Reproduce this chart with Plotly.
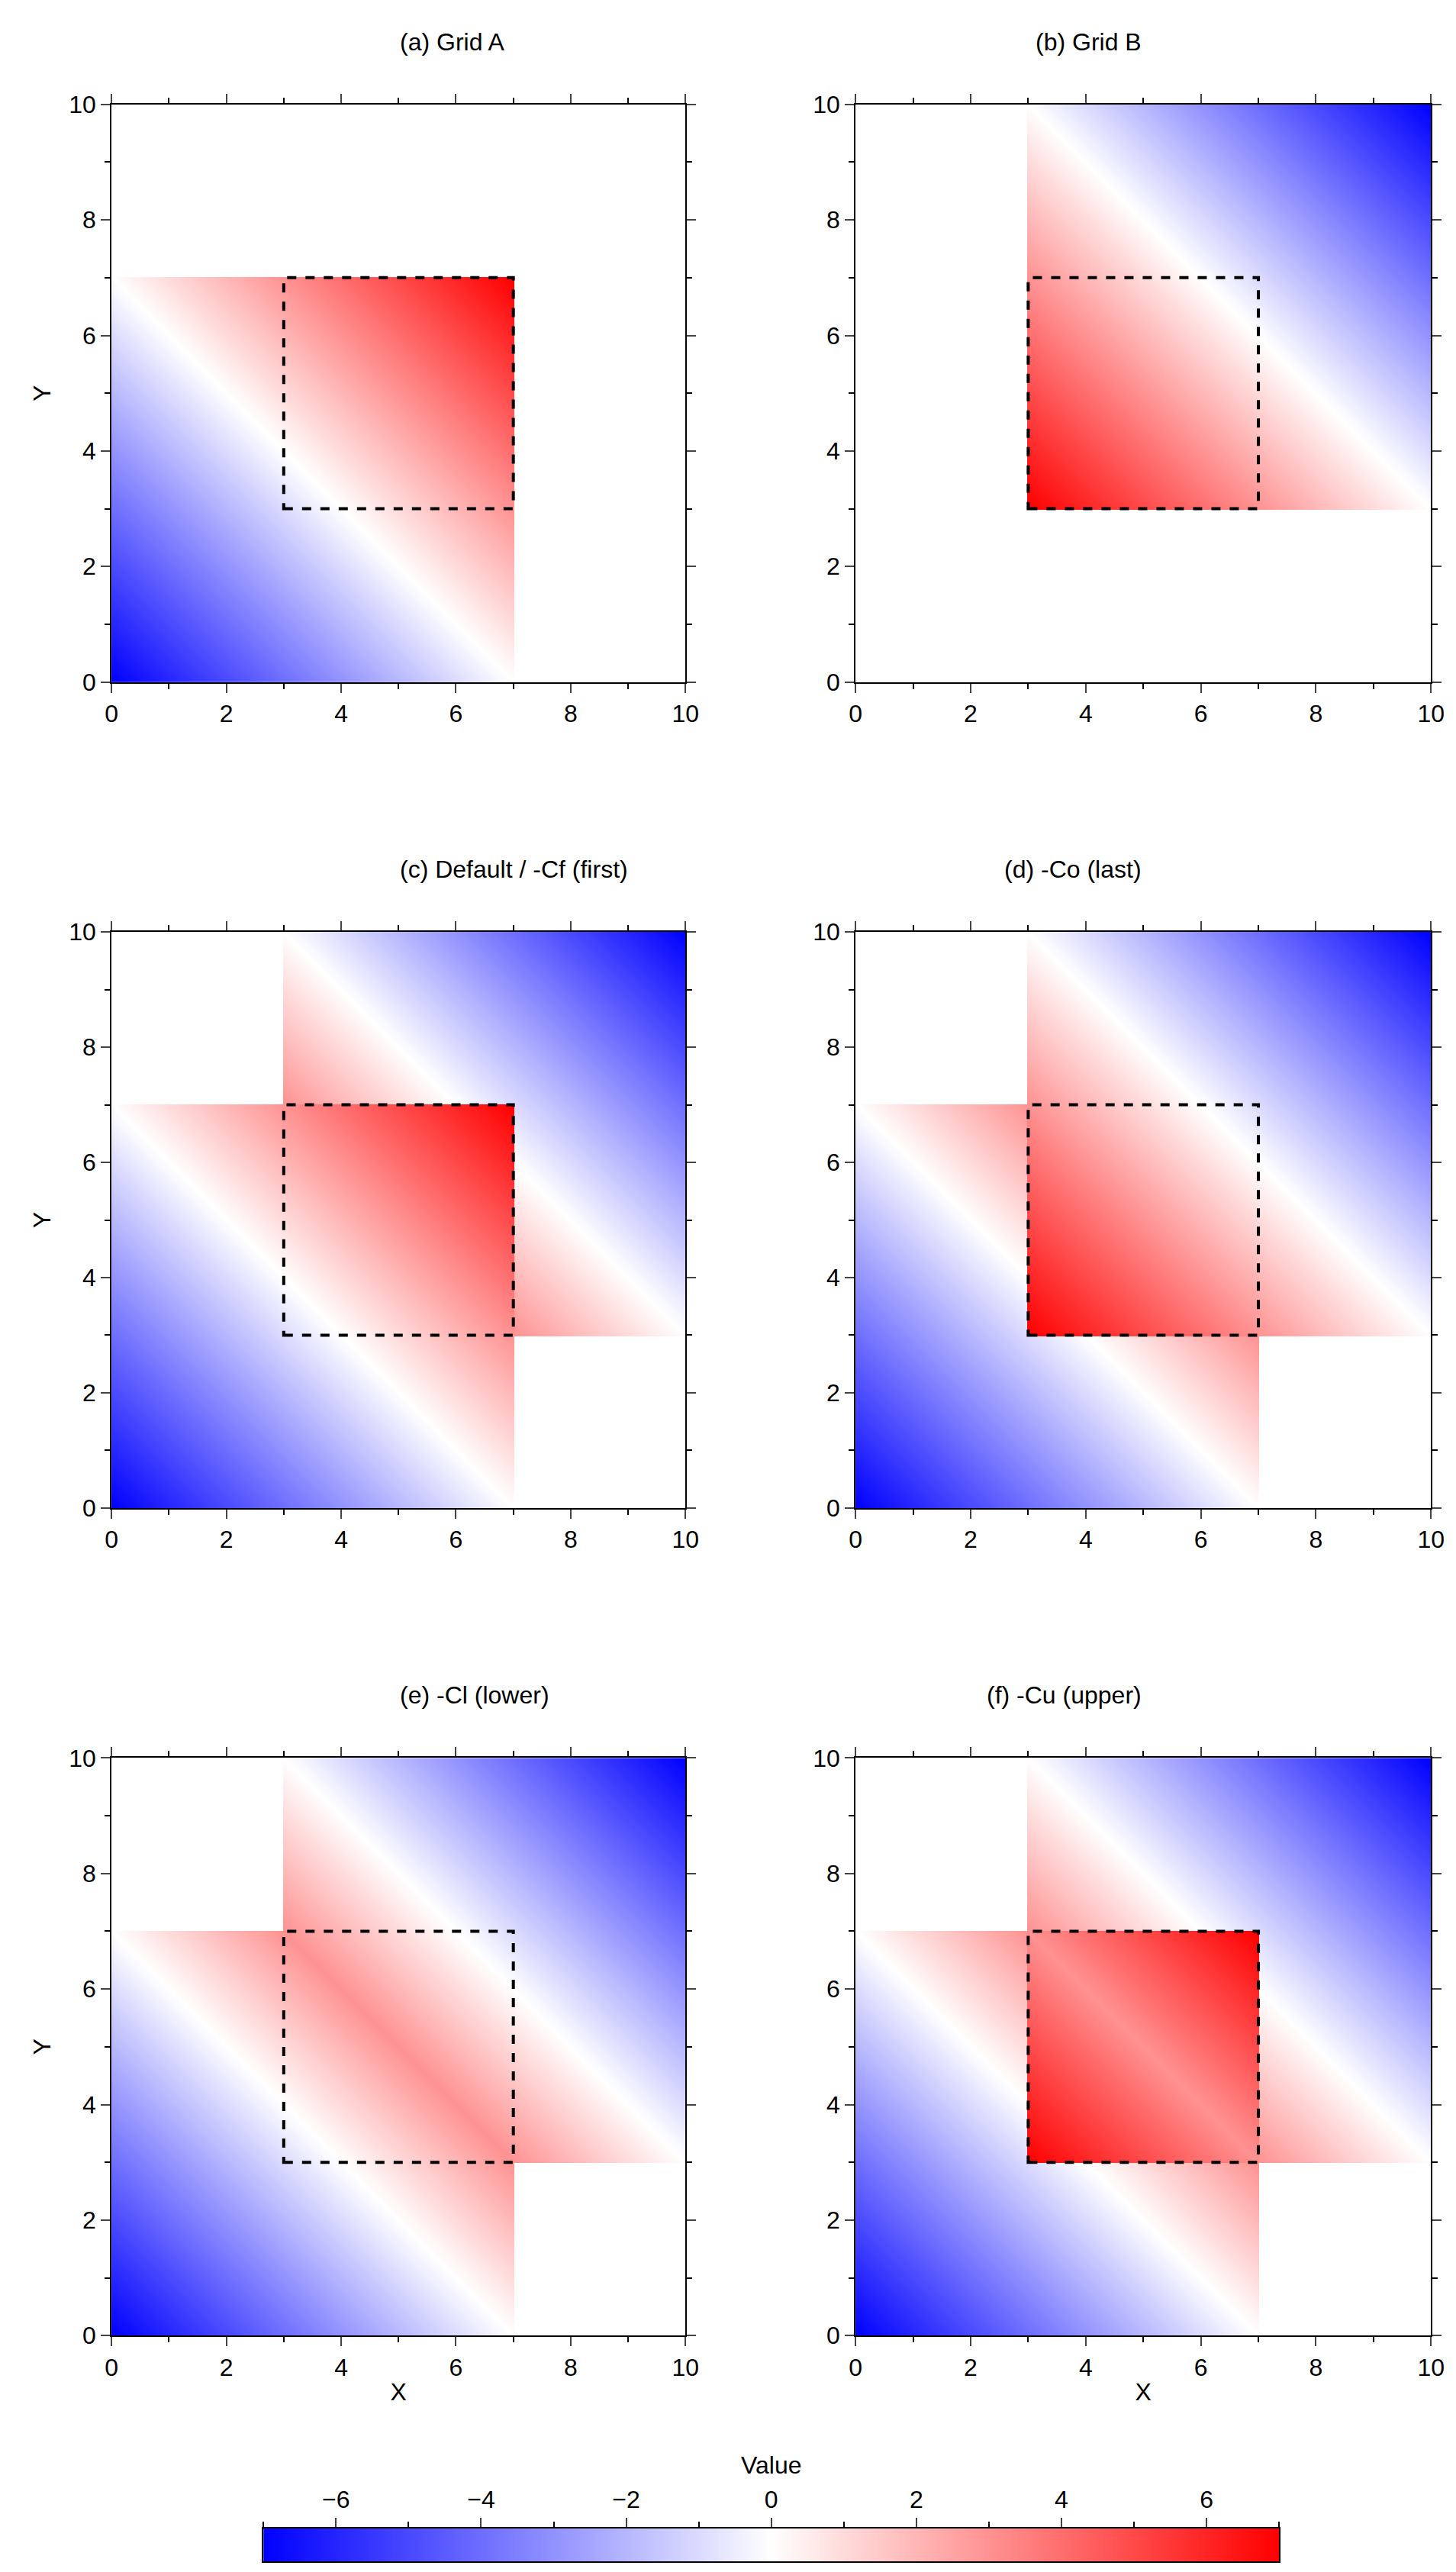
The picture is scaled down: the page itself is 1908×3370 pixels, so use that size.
import numpy as np
import plotly.graph_objects as go

# grid definitions (value planes)
grid_a_extent = [0, 7]     # x and y range of Grid A
grid_b_extent = [3, 10]    # x and y range of Grid B
grid_a_offset = -7         # Grid A: z = x + y - 7
grid_b_offset = 13         # Grid B: z = 13 - x - y
box = [3, 7]               # dashed overlap box
titles = ["(a) Grid A", "(b) Grid B", "(c) Default / -Cf (first)",
          "(d) -Co (last)", "(e) -Cl (lower)", "(f) -Cu (upper)"]
ticks = [0, 2, 4, 6, 8, 10]
cbar_ticks = [-6, -4, -2, 0, 2, 4, 6]
zmin, zmax = -7, 7

W, H = 1908, 3370
FONT = "Liberation Sans, Arial, sans-serif"
scale = [[0, "rgb(0,0,255)"], [0.5, "rgb(255,255,255)"], [1, "rgb(255,0,0)"]]

g = np.linspace(0, 10, 401)
X, Y = np.meshgrid(g, g)
inA = (X >= grid_a_extent[0]) & (X <= grid_a_extent[1]) & (Y >= grid_a_extent[0]) & (Y <= grid_a_extent[1])
inB = (X >= grid_b_extent[0]) & (X <= grid_b_extent[1]) & (Y >= grid_b_extent[0]) & (Y <= grid_b_extent[1])
A = np.where(inA, X + Y + grid_a_offset, np.nan)
B = np.where(inB, grid_b_offset - X - Y, np.nan)


def merge(mode):
    out = np.where(inA, A, B)
    both = inA & inB
    if mode == "first":
        out[both] = A[both]
    elif mode == "last":
        out[both] = B[both]
    elif mode == "lower":
        out[both] = np.minimum(A, B)[both]
    elif mode == "upper":
        out[both] = np.maximum(A, B)[both]
    return out


panels = [A, B, merge("first"), merge("last"), merge("lower"), merge("upper")]

xdoms = [(131 / W, 894 / W), (1120 / W, 1885 / W)]
rows_px = [(112, 877), (1208, 1971), (2302, 3067)]
ydoms = [(1 - b / H, 1 - t / H) for t, b in rows_px]

fig = go.Figure()
for i, z in enumerate(panels):
    r, c = divmod(i, 2)
    n = i + 1
    xa, ya = f"x{n}" if n > 1 else "x", f"y{n}" if n > 1 else "y"
    fig.add_trace(go.Heatmap(x=g, y=g, z=z, zmin=zmin, zmax=zmax, colorscale=scale,
                             showscale=False, xaxis=xa, yaxis=ya, hoverongaps=False))
    axcommon = dict(range=[0, 10], tickvals=ticks, ticks="outside", ticklen=12, tickwidth=2,
                    showline=True, linecolor="black", linewidth=2, mirror="allticks",
                    showgrid=False, zeroline=False, tickfont=dict(size=32, family=FONT, color="black"),
                    minor=dict(dtick=1, ticks="outside", ticklen=7, tickwidth=2, tickcolor="black"))
    fig.update_layout({
        f"xaxis{n if n > 1 else ''}": dict(axcommon, domain=xdoms[c], anchor=ya,
                                            title=dict(text="X" if r == 2 else "", font=dict(size=32, family=FONT), standoff=4)),
        f"yaxis{n if n > 1 else ''}": dict(axcommon, domain=ydoms[r], anchor=xa,
                                            title=dict(text="Y" if c == 0 else "", font=dict(size=32, family=FONT), standoff=14)),
    })
    if n > 1:
        fig.layout[f"xaxis{n}"].update()
    fig.add_shape(type="rect", x0=box[0], x1=box[1], y0=box[0], y1=box[1], xref=xa, yref=ya,
                  line=dict(color="black", width=4, dash="dash"))
    fig.add_annotation(text=titles[i], x=sum(xdoms[c]) / 2, y=ydoms[r][1], xref="paper", yref="paper",
                       yanchor="bottom", yshift=62, showarrow=False,
                       font=dict(size=32, family=FONT, color="black"))

# colorbar drawn as its own gradient strip
cb = np.linspace(zmin, zmax, 701)
fig.add_trace(go.Heatmap(x=cb, y=[0, 1], z=[cb, cb], zmin=zmin, zmax=zmax, colorscale=scale,
                         showscale=False, xaxis="x7", yaxis="y7", hoverinfo="skip"))
fig.update_layout(
    xaxis7=dict(domain=(333 / W, 1683 / W), anchor="y7", range=[zmin, zmax], side="top",
                tickvals=cbar_ticks, ticktext=[str(v).replace("-", "\u2212") for v in cbar_ticks],
                ticks="outside", ticklen=12, tickwidth=2, showline=True, linecolor="black",
                linewidth=2, mirror=True, showgrid=False, zeroline=False,
                tickfont=dict(size=32, family=FONT, color="black"),
                minor=dict(dtick=1, ticks="outside", ticklen=7, tickwidth=2, tickcolor="black"),
                title=dict(text="Value", font=dict(size=32, family=FONT), standoff=6)),
    yaxis7=dict(domain=(4 / H, 48 / H), anchor="x7", range=[0, 1], showticklabels=False,
                ticks="", showline=True, linecolor="black", linewidth=2, mirror=True,
                showgrid=False, zeroline=False),
)

fig.update_layout(width=W, height=H, margin=dict(l=0, r=0, t=0, b=0),
                  plot_bgcolor="white", paper_bgcolor="white", showlegend=False,
                  font=dict(family=FONT, color="black"))
fig.write_html("out.html")
